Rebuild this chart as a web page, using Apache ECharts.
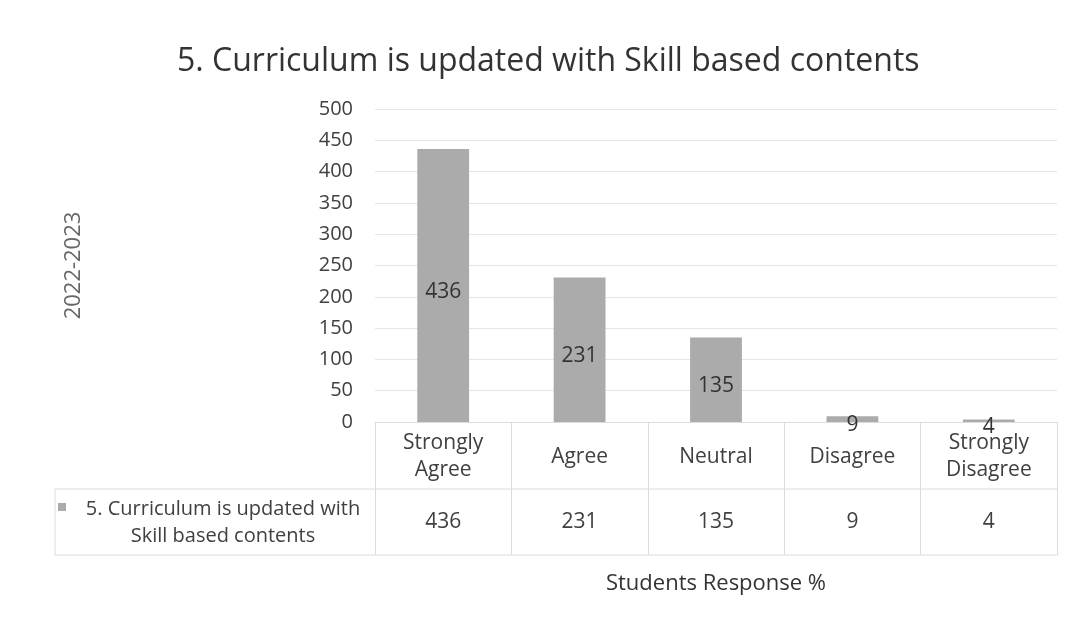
<!DOCTYPE html>
<html><head><meta charset="utf-8">
<script src="https://cdn.jsdelivr.net/npm/echarts@6/dist/echarts.min.js"></script>
<style>html,body{margin:0;padding:0;background:#fff}#c{width:1074px;height:622px}</style>
</head><body><div id="c"></div>
<script>
const title = '5. Curriculum is updated with Skill based contents';
const seriesName = '5. Curriculum is updated with\nSkill based contents';
const categories = ['Strongly\nAgree', 'Agree', 'Neutral', 'Disagree', 'Strongly\nDisagree'];
const values = [436, 231, 135, 9, 4];
const yTicks = {min: 0, max: 500, interval: 50};
const yName = '2022-2023';
const xName = 'Students Response %';

const FONT = 'Open Sans';
const TXT = '#404040';
const L = 375, R = 1057, TOP = 109, AX = 422, ROW1 = 489, ROW2 = 555, TL = 55;
const BORDER = '#dcdcdc';

const chart = echarts.init(document.getElementById('c'));
chart.setOption({
  backgroundColor: '#fff',
  animation: false,
  textStyle: {fontFamily: FONT},
  title: {text: title, left: 172, top: 41,
    textStyle: {fontFamily: FONT, fontSize: 32, fontWeight: 'normal', color: '#333'}},
  grid: {left: L, right: 1074 - R, top: TOP, bottom: 622 - AX, containLabel: false},
  xAxis: [{
    type: 'category', data: categories, position: 'bottom',
    axisLine: {show: true, lineStyle: {color: BORDER}},
    axisTick: {show: true, length: ROW2 - AX, lineStyle: {color: BORDER}},
    axisLabel: {color: TXT, fontSize: 21, lineHeight: 27, verticalAlign: 'middle', margin: 35, interval: 0, fontFamily: FONT}
  }, {
    type: 'category', data: values.map(String), position: 'bottom', offset: ROW1 - AX,
    axisLine: {show: false}, axisTick: {show: false},
    axisLabel: {color: TXT, fontSize: 21, verticalAlign: 'middle', margin: 33, interval: 0, fontFamily: FONT},
    name: xName, nameLocation: 'middle', nameGap: 84,
    nameTextStyle: {color: '#333', fontSize: 22, fontFamily: FONT}
  }],
  yAxis: {
    type: 'value', min: yTicks.min, max: yTicks.max, interval: yTicks.interval,
    axisLine: {show: false}, axisTick: {show: false},
    axisLabel: {color: TXT, fontSize: 20, margin: 22, fontFamily: FONT},
    splitLine: {lineStyle: {color: '#e6e6e6'}},
    name: yName, nameLocation: 'middle', nameGap: 290, nameRotate: 90,
    nameTextStyle: {color: '#666', fontSize: 22, fontFamily: FONT}
  },
  series: [{
    type: 'bar', name: seriesName, data: values, xAxisIndex: 0,
    barCategoryGap: '62%',
    itemStyle: {color: '#ababab'},
    label: {show: true, position: 'inside', offset: [0, 6], color: '#333', fontSize: 21, fontFamily: FONT}
  }],
  graphic: [
    {type: 'line', shape: {x1: TL, y1: ROW1, x2: R, y2: ROW1}, style: {stroke: BORDER, lineWidth: 1}},
    {type: 'line', shape: {x1: TL, y1: ROW2, x2: R, y2: ROW2}, style: {stroke: BORDER, lineWidth: 1}},
    {type: 'line', shape: {x1: TL, y1: ROW1, x2: TL, y2: ROW2}, style: {stroke: BORDER, lineWidth: 1}},
    {type: 'rect', shape: {x: 58, y: 503, width: 8, height: 8}, style: {fill: '#ababab'}},
    {type: 'text', x: 223, y: 496, style: {text: seriesName, fill: TXT, font: '20px "Open Sans"', textAlign: 'center', lineHeight: 27}}
  ]
});
</script></body></html>
